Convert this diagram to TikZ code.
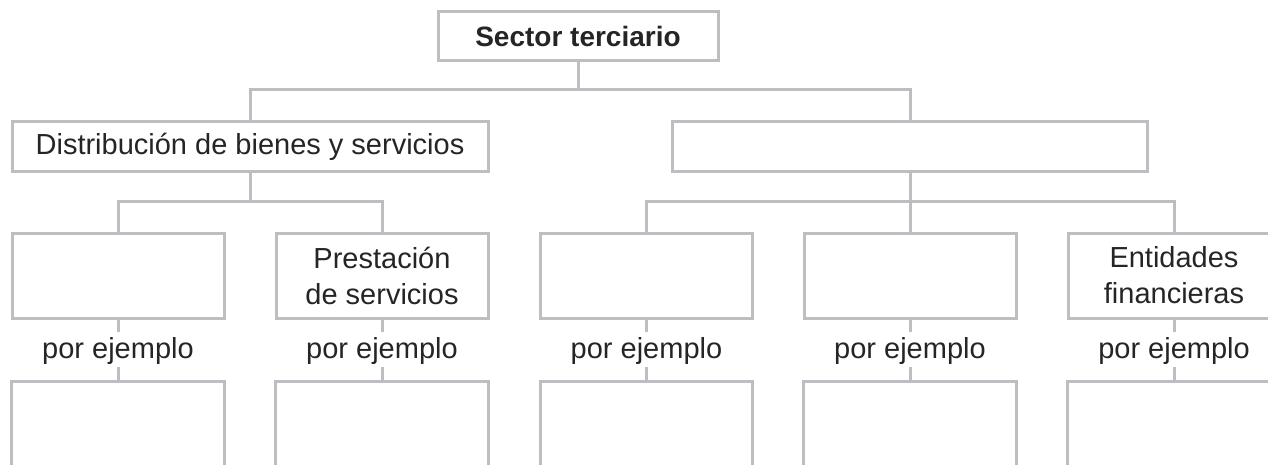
\documentclass[tikz,border=0pt]{standalone}
\usepackage{fontspec}
\setmainfont{Liberation Sans}
\definecolor{linegray}{HTML}{BDBEC1}
\definecolor{textgray}{HTML}{262424}
\tikzset{
  box/.style={draw=linegray, line width=3pt, inner sep=0pt, align=center,
    text=textgray, font=\fontsize{29}{36}\selectfont},
  rowbox/.style={box, minimum width=212pt, minimum height=85pt},
  widebox/.style={box, minimum width=476pt, minimum height=50pt},
  openbox/.style={inner sep=0pt, minimum width=212pt, minimum height=100pt, anchor=north},
  exlabel/.style={inner sep=0pt, anchor=base, text height=26pt, text depth=9pt,
    text=textgray, font=\fontsize{29}{36}\selectfont},
  conn/.style={draw=linegray, line width=3pt},
}
\begin{document}
\begin{tikzpicture}[x=1pt, y=-1pt]
\useasboundingbox (0,0) rectangle (1268,465);
\clip (0,0) rectangle (1268,465);

% top
\node[box, minimum width=280pt, minimum height=49pt, font=\fontsize{28}{34}\selectfont\bfseries] (top) at (578,36.5) {Sector terciario};

% level 1
\node[widebox] (dist) at (250,147) {Distribución de bienes y servicios};
\node[widebox, minimum width=475pt] (rb) at (910,147) {};

% level 2
\node[rowbox] (b1) at (118,275.5) {};
\node[rowbox] (b2) at (382,275.5) {Prestación\\de servicios};
\node[rowbox] (b3) at (646.5,275.5) {};
\node[rowbox] (b4) at (910,275.5) {};
\node[rowbox] (b5) at (1174,275.5) {Entidades\\financieras};

% labels
\node[exlabel] (l1) at (118,358) {por ejemplo};
\node[exlabel] (l2) at (382,358) {por ejemplo};
\node[exlabel] (l3) at (646.5,358) {por ejemplo};
\node[exlabel] (l4) at (910,358) {por ejemplo};
\node[exlabel] (l5) at (1174,358) {por ejemplo};

% bottom open boxes
\node[openbox] (e1) at (118,381) {};
\node[openbox] (e2) at (382,381) {};
\node[openbox] (e3) at (646.5,381) {};
\node[openbox] (e4) at (910,381) {};
\node[openbox] (e5) at (1174,381) {};
\foreach \e in {e1,e2,e3,e4,e5}{
  \draw[conn] (\e.south west) -- (\e.north west) -- (\e.north east) -- (\e.south east);
}

% junctions
\coordinate (jt) at (578,90);
\coordinate (jd) at (250,201.7);
\coordinate (jr) at (910,201.7);

% connectors
\draw[conn] (top.south) -- (jt);
\draw[conn] (dist.north) |- (jt) -| (rb.north);
\draw[conn] (dist.south) -- (jd);
\draw[conn] (b1.north) |- (jd) -| (b2.north);
\draw[conn] (rb.south) -- (b4.north);
\draw[conn] (b3.north) |- (jr) -| (b5.north);
\foreach \i in {1,...,5}{
  \draw[conn] (b\i.south) -- (l\i.north);
  \draw[conn] (l\i.south) -- (e\i.north);
}
\end{tikzpicture}
\end{document}
